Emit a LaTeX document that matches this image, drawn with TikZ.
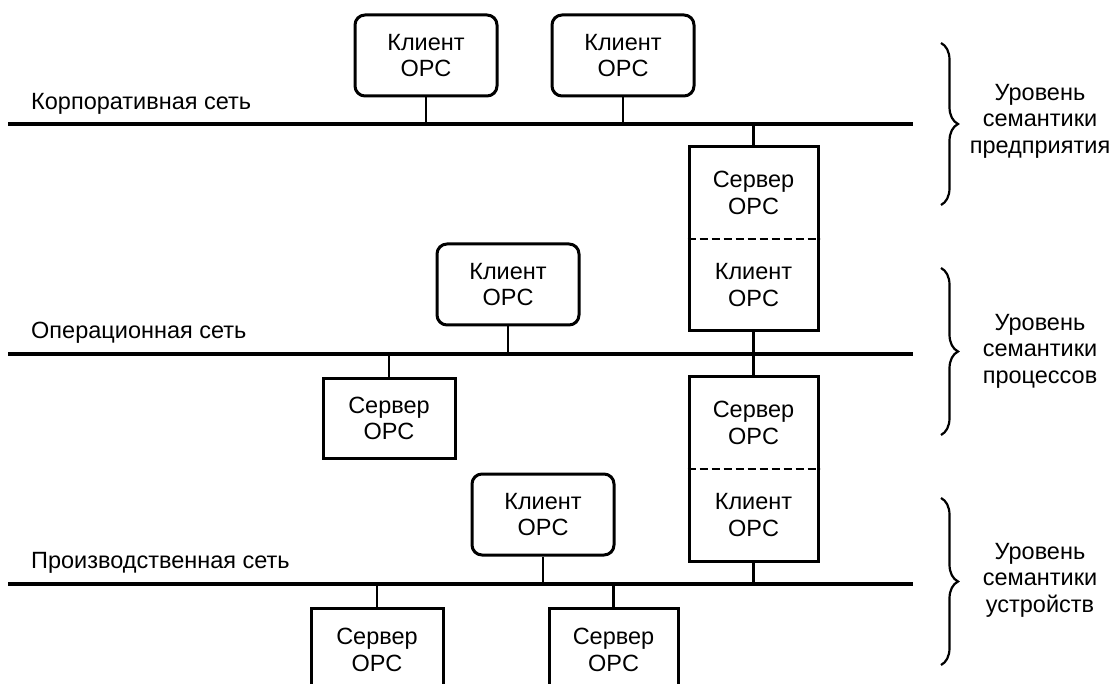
\documentclass[tikz,border=0pt]{standalone}
\usepackage{fontspec}
\setmainfont{Liberation Sans}
\usetikzlibrary{decorations.pathreplacing}
\begin{document}
\begin{tikzpicture}[x=1pt,y=-1pt,
  every node/.style={font=\fontsize{23.5}{26.5}\selectfont},
  bus/.style={line width=4.8pt},
  stem/.style={line width=2.6pt},
  client/.style={draw, line width=3pt, rounded corners=10pt, minimum width=142pt, minimum height=81pt, align=center, inner sep=0pt},
  server/.style={draw, line width=3pt, minimum width=132pt, minimum height=80pt, align=center, inner sep=0pt},
  column/.style={draw, line width=3pt, minimum width=129pt, minimum height=184pt, inner sep=0pt},
  txt/.style={align=center, inner sep=0pt},
  netlabel/.style={anchor=west, inner sep=0pt},
  divider/.style={line width=2.4pt, dash pattern=on 8pt off 4pt},
  bracestyle/.style={line width=2.2pt, decorate, decoration={brace, amplitude=17pt}}
]
\clip (0,0) rectangle (1114,684);
\useasboundingbox (0,0) rectangle (1114,684);

% buses
\coordinate (corpL) at (8,124);   \coordinate (corpR) at (913,124);
\coordinate (operL) at (8,354);   \coordinate (operR) at (913,354);
\coordinate (prodL) at (8,584);   \coordinate (prodR) at (913,584);
\draw[bus] (corpL) -- (corpR);
\draw[bus] (operL) -- (operR);
\draw[bus] (prodL) -- (prodR);

\node[netlabel] (lcorp) at (31,104) {Корпоративная сеть};
\node[netlabel] (loper) at (31,333) {Операционная сеть};
\node[netlabel] (lprod) at (31,563) {Производственная сеть};

% corporate level clients
\node[client] (cA) at (426,55.5) {Клиент\\OPC};
\node[client] (cB) at (623,55.5) {Клиент\\OPC};
\draw[stem] (cA.south) -- (cA.south |- corpL);
\draw[stem] (cB.south) -- (cB.south |- corpL);

% column 1 (server/client)
\node[column] (s1) at (753.5,239) {};
\draw[divider] (s1.west) -- (s1.east);
\node[txt] (s1a) at (753.5,193) {Сервер\\OPC};
\node[txt] (s1b) at (753.5,285) {Клиент\\OPC};
\draw[stem] (s1.north) -- (s1.north |- corpL);
\draw[stem] (s1.south) -- (s1.south |- operL);

% operational level
\node[client] (cO) at (508,284.5) {Клиент\\OPC};
\draw[stem] (cO.south) -- (cO.south |- operL);
\node[server, minimum height=79pt] (sO) at (389,418.5) {Сервер\\OPC};
\draw[stem] (sO.north) -- (sO.north |- operL);

% column 2
\node[column] (s2) at (753.5,469) {};
\draw[divider] (s2.west) -- (s2.east);
\node[txt] (s2a) at (753.5,423) {Сервер\\OPC};
\node[txt] (s2b) at (753.5,515) {Клиент\\OPC};
\draw[stem] (s2.north) -- (s2.north |- operL);
\draw[stem] (s2.south) -- (s2.south |- prodL);

% production level
\node[client] (cP) at (543,514.5) {Клиент\\OPC};
\draw[stem] (cP.south) -- (cP.south |- prodL);
\node[server, minimum height=84pt] (sP1) at (377,650) {Сервер\\OPC};
\node[server, minimum height=84pt, minimum width=129pt] (sP2) at (613.5,650) {Сервер\\OPC};
\draw[stem] (sP1.north) -- (sP1.north |- prodL);
\draw[stem] (sP2.north) -- (sP2.north |- prodL);

% braces
\coordinate (b1t) at (941,43);  \coordinate (b1b) at (941,205);
\coordinate (b2t) at (941,268); \coordinate (b2b) at (941,435);
\coordinate (b3t) at (941,498); \coordinate (b3b) at (941,665);
\draw[bracestyle] (b1t) -- (b1b);
\draw[bracestyle] (b2t) -- (b2b);
\draw[bracestyle] (b3t) -- (b3b);

\node[txt] (t1) at (1040,121) {Уровень\\семантики\\предприятия};
\node[txt] (t2) at (1040,351) {Уровень\\семантики\\процессов};
\node[txt] (t3) at (1040,580) {Уровень\\семантики\\устройств};
\end{tikzpicture}
\end{document}
